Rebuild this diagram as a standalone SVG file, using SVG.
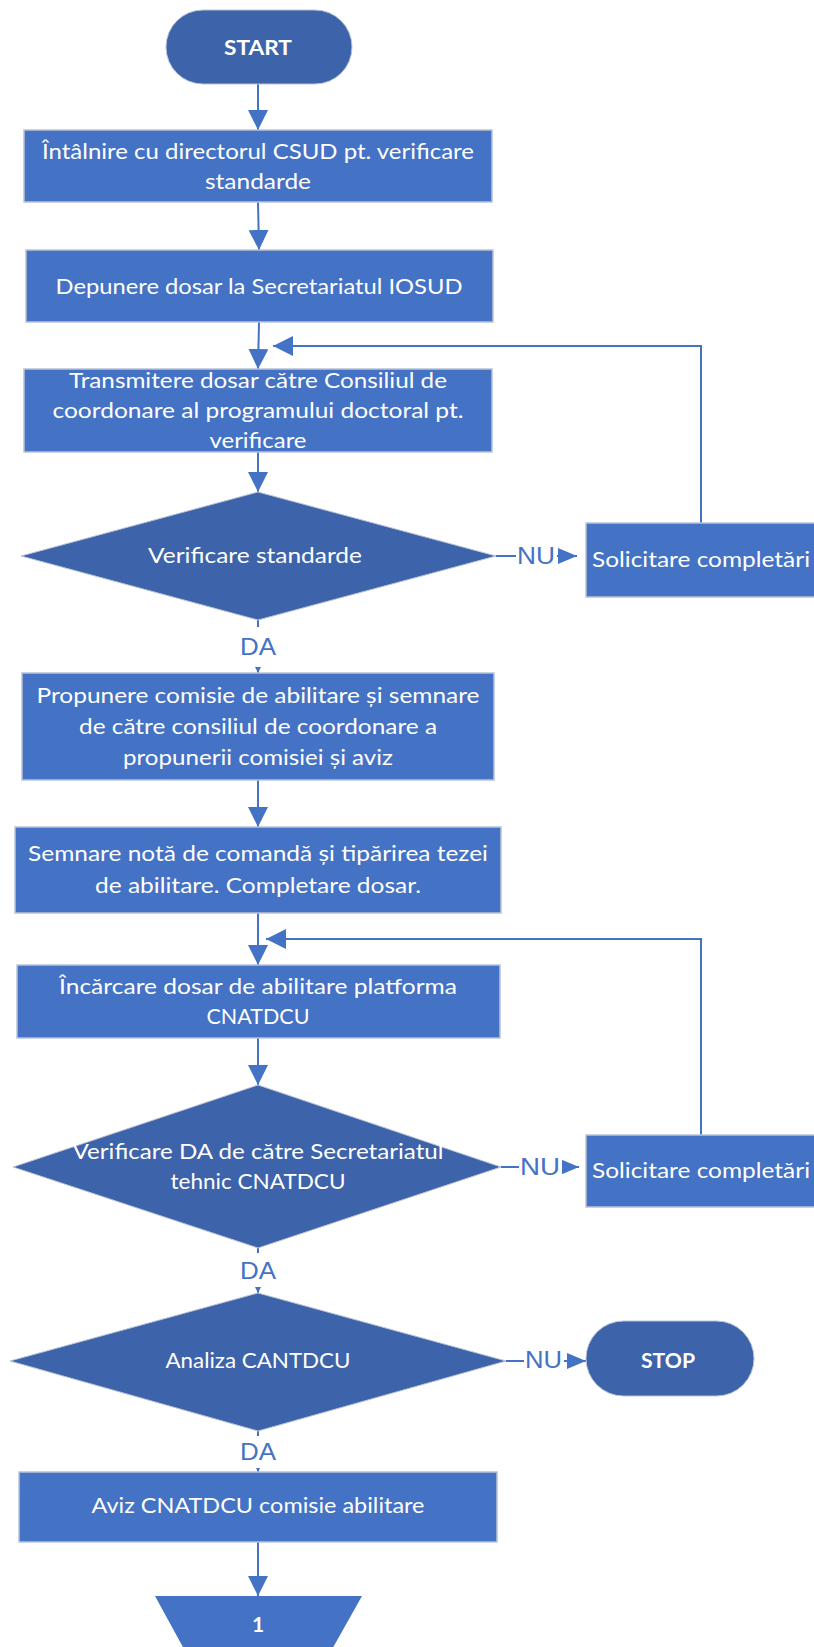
<svg xmlns="http://www.w3.org/2000/svg" width="814" height="1647" viewBox="0 0 814 1647">
<defs>
<marker id="arr" markerUnits="userSpaceOnUse" markerWidth="20" markerHeight="20" refX="20" refY="10" orient="auto">
<path d="M0,0 L20,10 L0,20 Z" fill="#4472C4"/>
</marker>
<marker id="arrs" markerUnits="userSpaceOnUse" markerWidth="20" markerHeight="16" refX="19" refY="8" orient="auto">
<path d="M0,0 L19,8 L0,16 Z" fill="#4472C4"/>
</marker>
</defs>
<style>
.box{fill:#4472C4;stroke:#b9c3d8;stroke-width:1.5}
.dec{fill:#3D63AA;stroke:#b9c3d8;stroke-width:1}
.term{fill:#3D63AA;stroke:#b9c3d8;stroke-width:1}
.t{font-family:Lato,"Liberation Sans",sans-serif;font-size:22px;fill:#ffffff;text-anchor:middle}
.tb{font-family:Lato,"Liberation Sans",sans-serif;font-size:21px;font-weight:bold;fill:#ffffff;text-anchor:middle}
.lbl{font-family:"Liberation Sans",Lato,sans-serif;font-size:24px;fill:#4472C4;text-anchor:middle}
.ln{fill:none;stroke:#4472C4;stroke-width:2}
.bg{fill:#ffffff}
</style>
<rect width="814" height="1647" fill="#ffffff"/>

<g id="connectors">
<path class="ln" d="M258,84 L258,130" marker-end="url(#arr)"/>
<path class="ln" d="M258,202 L259,250" marker-end="url(#arr)"/>
<path class="ln" d="M259,322 L258,369" marker-end="url(#arr)"/>
<path class="ln" d="M258,452 L258,492" marker-end="url(#arr)"/>
<path class="ln" d="M258,620 L258,673" marker-end="url(#arr)"/>
<rect class="bg" x="234" y="627" width="48" height="40"/>
<text class="lbl" x="258" y="655" textLength="36" lengthAdjust="spacingAndGlyphs">DA</text>
<path class="ln" d="M496,556 L577,556" marker-end="url(#arrs)"/>
<rect class="bg" x="516" y="540" width="41" height="30"/>
<text class="lbl" x="536" y="564" textLength="38" lengthAdjust="spacingAndGlyphs">NU</text>
<path class="ln" d="M701,523 L701,346 L273,346" marker-end="url(#arr)"/>
<path class="ln" d="M258,780 L258,827" marker-end="url(#arr)"/>
<path class="ln" d="M258,913 L258,965" marker-end="url(#arr)"/>
<path class="ln" d="M701,1135 L701,939 L266,939" marker-end="url(#arr)"/>
<path class="ln" d="M258,1038 L258,1085" marker-end="url(#arr)"/>
<path class="ln" d="M501,1167 L579,1167" marker-end="url(#arrs)"/>
<rect class="bg" x="519" y="1151" width="43" height="30"/>
<text class="lbl" x="540" y="1175" textLength="40" lengthAdjust="spacingAndGlyphs">NU</text>
<path class="ln" d="M258,1248 L258,1293" marker-end="url(#arr)"/>
<rect class="bg" x="234" y="1253" width="48" height="34"/>
<text class="lbl" x="258" y="1279" textLength="36" lengthAdjust="spacingAndGlyphs">DA</text>
<path class="ln" d="M506,1361 L586,1361" marker-end="url(#arrs)"/>
<rect class="bg" x="524" y="1345" width="40" height="30"/>
<text class="lbl" x="543.5" y="1368" textLength="37" lengthAdjust="spacingAndGlyphs">NU</text>
<path class="ln" d="M258,1431 L258,1472" marker-end="url(#arr)"/>
<rect class="bg" x="234" y="1436" width="48" height="32"/>
<text class="lbl" x="258" y="1460" textLength="36" lengthAdjust="spacingAndGlyphs">DA</text>
<path class="ln" d="M258,1542 L258,1596" marker-end="url(#arr)"/>
</g>

<g id="start">
<rect class="term" x="166" y="10" width="186" height="74" rx="37" ry="37"/>
<text class="tb" x="258" y="55" textLength="68" lengthAdjust="spacingAndGlyphs">START</text>
</g>

<g id="n1">
<rect class="box" x="24" y="130" width="468" height="72"/>
<text class="t" x="258" y="159" textLength="432" lengthAdjust="spacingAndGlyphs">Întâlnire cu directorul CSUD pt. verificare</text>
<text class="t" x="258" y="189" textLength="106" lengthAdjust="spacingAndGlyphs">standarde</text>
</g>

<g id="n2">
<rect class="box" x="26" y="250" width="467" height="72"/>
<text class="t" x="259" y="294" textLength="407" lengthAdjust="spacingAndGlyphs">Depunere dosar la Secretariatul IOSUD</text>
</g>

<g id="n3">
<rect class="box" x="24" y="369" width="468" height="83"/>
<text class="t" x="258" y="388" textLength="378" lengthAdjust="spacingAndGlyphs">Transmitere dosar către Consiliul de</text>
<text class="t" x="258" y="418" textLength="411" lengthAdjust="spacingAndGlyphs">coordonare al programului doctoral pt.</text>
<text class="t" x="258" y="448" textLength="97" lengthAdjust="spacingAndGlyphs">verificare</text>
</g>

<g id="d1">
<polygon class="dec" points="258,492 496,556 258,620 21,556"/>
<text class="t" x="255" y="563" textLength="214" lengthAdjust="spacingAndGlyphs">Verificare standarde</text>
</g>

<g id="s1">
<rect class="box" x="586" y="523" width="240" height="74"/>
<text class="t" x="701" y="567" textLength="218" lengthAdjust="spacingAndGlyphs">Solicitare completări</text>
</g>

<g id="n4">
<rect class="box" x="22" y="673" width="472" height="107"/>
<text class="t" x="258" y="703" textLength="443" lengthAdjust="spacingAndGlyphs">Propunere comisie de abilitare și semnare</text>
<text class="t" x="258" y="734" textLength="358" lengthAdjust="spacingAndGlyphs">de către consiliul de coordonare a</text>
<text class="t" x="258" y="765" textLength="270" lengthAdjust="spacingAndGlyphs">propunerii comisiei și aviz</text>
</g>

<g id="n5">
<rect class="box" x="15" y="827" width="486" height="86"/>
<text class="t" x="258" y="861" textLength="460" lengthAdjust="spacingAndGlyphs">Semnare notă de comandă și tipărirea tezei</text>
<text class="t" x="258" y="893" textLength="326" lengthAdjust="spacingAndGlyphs">de abilitare. Completare dosar.</text>
</g>

<g id="n6">
<rect class="box" x="17" y="965" width="483" height="73"/>
<text class="t" x="258" y="994" textLength="398" lengthAdjust="spacingAndGlyphs">Încărcare dosar de abilitare platforma</text>
<text class="t" x="258" y="1024" textLength="103" lengthAdjust="spacingAndGlyphs">CNATDCU</text>
</g>

<g id="d2">
<polygon class="dec" points="258,1085 501,1167 258,1248 13,1167"/>
<text class="t" x="258" y="1159" textLength="371" lengthAdjust="spacingAndGlyphs">Verificare DA de către Secretariatul</text>
<text class="t" x="258" y="1189" textLength="175" lengthAdjust="spacingAndGlyphs">tehnic CNATDCU</text>
</g>

<g id="s2">
<rect class="box" x="586" y="1135" width="240" height="72"/>
<text class="t" x="701" y="1178" textLength="218" lengthAdjust="spacingAndGlyphs">Solicitare completări</text>
</g>

<g id="d3">
<polygon class="dec" points="258,1293 506,1361 258,1431 10,1361"/>
<text class="t" x="258" y="1368" textLength="185" lengthAdjust="spacingAndGlyphs">Analiza CANTDCU</text>
</g>

<g id="stop">
<rect class="term" x="586" y="1321" width="168" height="75" rx="37.5" ry="37.5"/>
<text class="tb" x="668" y="1368" textLength="54" lengthAdjust="spacingAndGlyphs">STOP</text>
</g>

<g id="n7">
<rect class="box" x="19" y="1472" width="478" height="70"/>
<text class="t" x="258" y="1513" textLength="333" lengthAdjust="spacingAndGlyphs">Aviz CNATDCU comisie abilitare</text>
</g>

<g id="c1">
<polygon points="155,1596 362,1596 326,1660 190,1660" fill="#4472C4"/>
<text class="tb" x="258" y="1632">1</text>
</g>
</svg>
